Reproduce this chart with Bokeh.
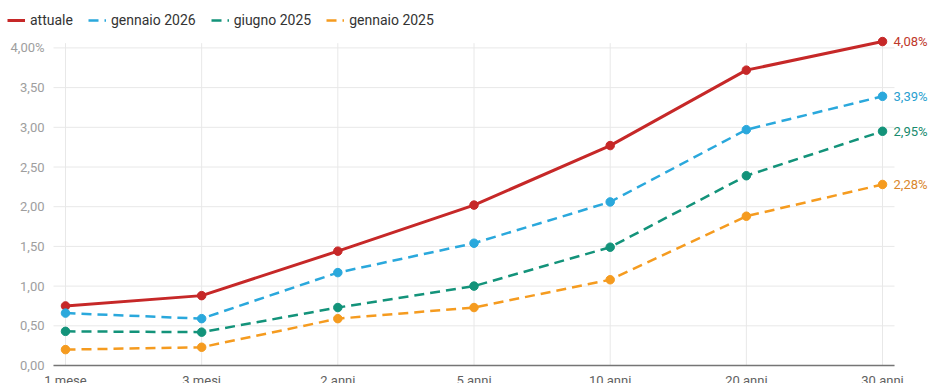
from bokeh.plotting import figure
from bokeh.models import ColumnDataSource, Legend, LegendItem, Range1d
from bokeh.core.properties import value
from bokeh.embed import file_html
from bokeh.resources import INLINE

# Scadenze della curva dei rendimenti
maturities = ["1 mese", "3 mesi", "2 anni", "5 anni", "10 anni", "20 anni", "30 anni"]

# Rendimenti (%) per ciascuna curva
attuale = [0.75, 0.88, 1.44, 2.02, 2.77, 3.72, 4.08]
gennaio_2026 = [0.66, 0.59, 1.17, 1.54, 2.06, 2.97, 3.39]
giugno_2025 = [0.43, 0.42, 0.73, 1.00, 1.49, 2.39, 2.95]
gennaio_2025 = [0.20, 0.23, 0.59, 0.73, 1.08, 1.88, 2.28]

series_names = ["attuale", "gennaio 2026", "giugno 2025", "gennaio 2025"]
series_values = [attuale, gennaio_2026, giugno_2025, gennaio_2025]
line_colors = ["#c62828", "#2aa8dc", "#13937a", "#f59b1f"]
label_colors = ["#c0392b", "#2a9fd0", "#178a6e", "#d9862c"]

y_ticks = [0.0, 0.5, 1.0, 1.5, 2.0, 2.5, 3.0, 3.5, 4.0]
y_labels = [f"{t:.2f}".replace(".", ",") for t in y_ticks]
y_labels[-1] += "%"

FONT = "Roboto"
GRID = "#e8e8e8"
x_idx = list(range(len(maturities)))

# margine orizzontale dell'area dati, in unità di categoria
PAD = 0.088
x_lo, x_hi = x_idx[0] - PAD, x_idx[-1] + PAD

# L'area di disegno occupa tutta la pagina; assi e legenda sono disegnati dentro
p = figure(width=931, height=383, output_backend="svg", toolbar_location=None,
           x_range=Range1d(-0.4773, 6.3597), y_range=Range1d(-0.2267, 4.597),
           min_border=0, outline_line_color=None)
p.xaxis.visible = False
p.yaxis.visible = False
p.xgrid.visible = False
p.ygrid.visible = False

# Griglia: orizzontale sui tick di y, verticale su ogni scadenza
n_y = len(y_ticks)
p.segment(x0=[x_lo] * n_y, y0=y_ticks, x1=[x_hi] * n_y, y1=y_ticks,
          line_color=GRID, line_width=1)
p.segment(x0=x_idx, y0=[0] * len(x_idx), x1=x_idx,
          y1=[y_ticks[-1] + 0.06] * len(x_idx), line_color=GRID, line_width=1)

# Asse x
p.segment(x0=[x_lo], y0=[0], x1=[x_hi], y1=[0], line_color="#757575",
          line_width=1.5)
p.text(x=x_idx, y=[0] * len(x_idx), text=maturities, y_offset=7,
       text_font=value(FONT), text_font_size="13px", text_color="#616161",
       text_align="center", text_baseline="top")

# Etichette dell'asse y
p.text(x=[x_lo] * n_y, y=y_ticks, text=y_labels, x_offset=-9,
       text_font=value(FONT), text_font_size="13px", text_color="#9e9e9e",
       text_align="right", text_baseline="middle")

items = []
for name, vals, col in zip(series_names, series_values, line_colors):
    src = ColumnDataSource(dict(x=x_idx, y=vals))
    if name == "attuale":
        ln = p.line("x", "y", source=src, line_color=col, line_width=3)
    else:
        ln = p.line("x", "y", source=src, line_color=col, line_width=2.5,
                    line_dash="10 6")
    p.scatter("x", "y", source=src, size=8.5, fill_color=col, line_color=col)
    items.append(LegendItem(label=name, renderers=[ln]))

# Etichette con il valore a 30 anni
last_src = ColumnDataSource(dict(
    x=[x_idx[-1]] * len(series_values),
    y=[v[-1] for v in series_values],
    txt=[f"{v[-1]:.2f}%".replace(".", ",") for v in series_values],
    col=label_colors,
))
p.text(x="x", y="y", text="txt", source=last_src, x_offset=11,
       text_color="col", text_font=value(FONT), text_font_size="13px",
       text_baseline="middle", text_align="left")

legend = Legend(items=items, location=(7, 353), orientation="horizontal",
                padding=0, margin=0, spacing=15, glyph_width=18, glyph_height=20,
                label_standoff=5, label_text_font=FONT,
                label_text_font_size="14px", label_text_color="#333333",
                background_fill_alpha=0, border_line_color=None)
p.add_layout(legend)

open("out.html", "w").write(file_html(p, INLINE))
